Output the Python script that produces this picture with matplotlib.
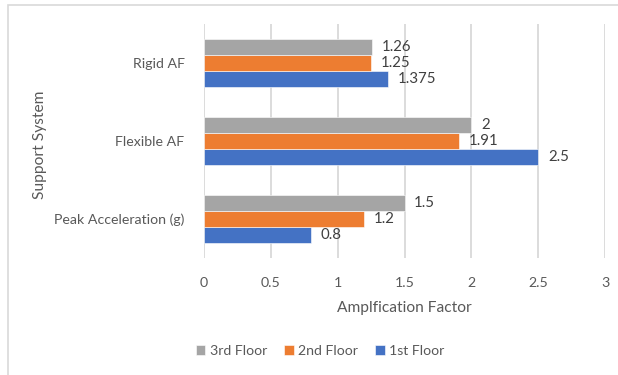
import numpy as np
import matplotlib.pyplot as plt
from matplotlib.patches import Rectangle

plt.rcParams['font.family'] = ['Lato', 'DejaVu Sans']

# categories listed bottom to top
categories = ['Peak Acceleration (g)', 'Flexible AF', 'Rigid AF']
first_floor = [0.8, 2.5, 1.375]
second_floor = [1.2, 1.91, 1.25]
third_floor = [1.5, 2, 1.26]
first_labels = ['0.8', '2.5', '1.375']
second_labels = ['1.2', '1.91', '1.25']
third_labels = ['1.5', '2', '1.26']
xticks = [0, 0.5, 1, 1.5, 2, 2.5, 3]

text_color = '#595959'
grid_color = '#D9D9D9'

fig = plt.figure(figsize=(6.18, 3.75), dpi=100)
ax = fig.add_axes([204 / 618, 1 - 258 / 375, 401 / 618, 234 / 375])

y = np.arange(len(categories))
h = 0.205
series = [
    ('1st Floor', first_floor, first_labels, '#4472C4', -h),
    ('2nd Floor', second_floor, second_labels, '#ED7D31', 0),
    ('3rd Floor', third_floor, third_labels, '#A5A5A5', h),
]
handles = {}
for name, vals, labels, color, off in series:
    bars = ax.barh(y + off, vals, height=h, color=color, edgecolor='white',
                   linewidth=0.4, label=name, zorder=3)
    handles[name] = bars
    ax.bar_label(bars, labels=labels, padding=7, color='#404040', fontsize=10.8)

ax.set_xlim(0, 3)
ax.set_ylim(-0.5, 2.5)
ax.set_xticks(xticks)
ax.set_xticklabels([f'{t:g}' for t in xticks])
ax.set_yticks(y)
ax.set_yticklabels(categories)
ax.xaxis.grid(True, color=grid_color, linewidth=1.3, zorder=0)
for s in ax.spines.values():
    s.set_visible(False)
ax.tick_params(axis='both', length=0, colors=text_color, labelsize=10.2)
ax.tick_params(axis='x', pad=14)
ax.tick_params(axis='y', pad=14)

ax.set_xlabel('Amplfication Factor', color=text_color, fontsize=11.2, labelpad=8)
fig.text(40 / 618, 1 - 145 / 375, 'Support System', rotation=90,
         ha='center', va='center', color=text_color, fontsize=11.2)

order = ['3rd Floor', '2nd Floor', '1st Floor']
fig.legend([handles[n] for n in order], order, loc='center',
           bbox_to_anchor=(320 / 618, 1 - 351 / 375), ncol=3, frameon=False,
           fontsize=10.2, labelcolor=text_color, handlelength=0.7,
           handleheight=0.7, handletextpad=0.3, columnspacing=1.2)

# chart area outline
fig.patches.append(Rectangle((8 / 618, -0.05), 1.0, 1 - 5 / 375 + 0.05,
                             transform=fig.transFigure, fill=False,
                             edgecolor='#D9D9D9', linewidth=1.2))

fig.savefig('out.png', dpi=100)
